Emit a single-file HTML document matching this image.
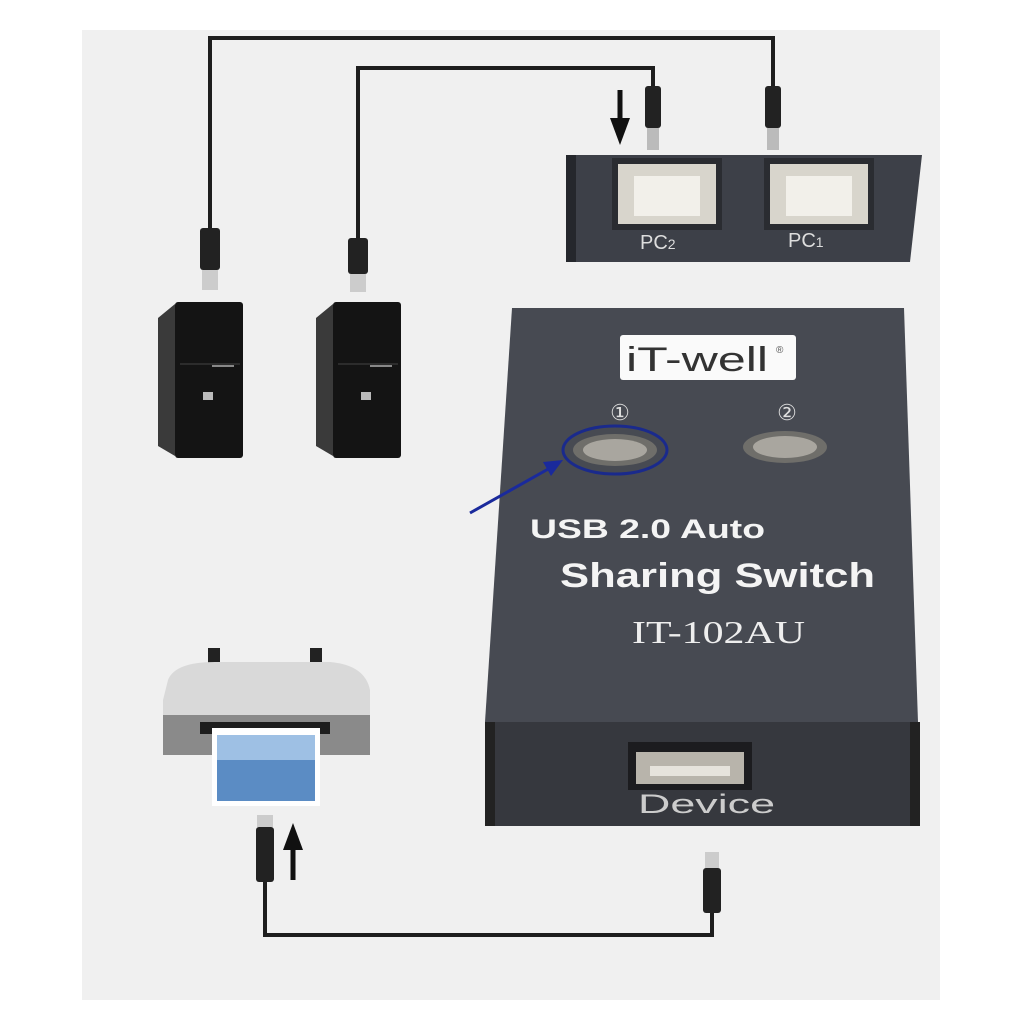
<!DOCTYPE html>
<html><head><meta charset="utf-8"><style>html,body{margin:0;padding:0;background:#fff}svg{display:block}</style></head><body>
<svg width="1024" height="1024" viewBox="0 0 1024 1024" xmlns="http://www.w3.org/2000/svg">
<rect x="82" y="30" width="858" height="970" fill="#f0f0f0"/>
<g fill="none" stroke="#1e1e1e" stroke-width="4">
<path d="M210 228 V38 H773 V90"/>
<path d="M358 240 V68 H653 V90"/>
<path d="M265 880 V935 H712 V905"/>
</g>
<g>
<rect x="645" y="86" width="16" height="42" rx="3" fill="#222"/><rect x="647" y="128" width="12" height="22" fill="#bbb"/>
<rect x="765" y="86" width="16" height="42" rx="3" fill="#222"/><rect x="767" y="128" width="12" height="22" fill="#bbb"/>
<rect x="200" y="228" width="20" height="42" rx="3" fill="#222"/><rect x="202" y="270" width="16" height="20" fill="#ccc"/>
<rect x="348" y="238" width="20" height="36" rx="3" fill="#222"/><rect x="350" y="274" width="16" height="18" fill="#ccc"/>
<rect x="257" y="815" width="16" height="12" fill="#ccc"/><rect x="256" y="827" width="18" height="55" rx="3" fill="#222"/>
<rect x="705" y="852" width="14" height="16" fill="#ccc"/><rect x="703" y="868" width="18" height="45" rx="3" fill="#222"/>
</g>
<path d="M620 90 V125" stroke="#111" stroke-width="5"/><path d="M610 118 L630 118 L620 145 Z" fill="#111"/>
<path d="M293 880 V845" stroke="#111" stroke-width="5"/><path d="M283 850 L303 850 L293 823 Z" fill="#111"/>
<polygon points="566,155 922,155 910,262 570,262" fill="#3d4048"/>
<rect x="566" y="155" width="10" height="107" fill="#25272c"/>
<rect x="612" y="158" width="110" height="72" fill="#2a2c31"/>
<rect x="618" y="164" width="98" height="60" fill="#d8d5cc"/><rect x="634" y="176" width="66" height="40" fill="#f2f0ea"/>
<rect x="764" y="158" width="110" height="72" fill="#2a2c31"/>
<rect x="770" y="164" width="98" height="60" fill="#d8d5cc"/><rect x="786" y="176" width="66" height="40" fill="#f2f0ea"/>
<text x="640" y="249" font-family="Liberation Sans, sans-serif" font-size="20" fill="#ddd">PC<tspan font-size="14">2</tspan></text>
<text x="788" y="247" font-family="Liberation Sans, sans-serif" font-size="20" fill="#ddd">PC<tspan font-size="14">1</tspan></text>
<polygon points="512,308 904,308 918,722 485,722" fill="#474a52"/>
<rect x="485" y="722" width="435" height="104" fill="#36383e"/>
<rect x="485" y="722" width="10" height="104" fill="#222"/><rect x="910" y="722" width="10" height="104" fill="#222"/>
<rect x="620" y="335" width="176" height="45" rx="3" fill="#fafafa"/>
<text x="626" y="371" font-family="Liberation Sans, sans-serif" font-size="34" fill="#333" textLength="142" lengthAdjust="spacingAndGlyphs">iT-well</text>
<text x="776" y="353" font-family="Liberation Sans, sans-serif" font-size="10" fill="#555">®</text>
<text x="620" y="420" font-family="Liberation Serif, serif" font-size="22" fill="#ddd" text-anchor="middle">①</text>
<text x="787" y="420" font-family="Liberation Serif, serif" font-size="22" fill="#ddd" text-anchor="middle">②</text>
<ellipse cx="615" cy="450" rx="42" ry="16" fill="#6f6e6a"/><ellipse cx="615" cy="450" rx="32" ry="11" fill="#a9a69f"/>
<ellipse cx="785" cy="447" rx="42" ry="16" fill="#6f6e6a"/><ellipse cx="785" cy="447" rx="32" ry="11" fill="#a9a69f"/>
<ellipse cx="615" cy="450" rx="52" ry="24" fill="none" stroke="#1a2a8c" stroke-width="3"/>
<path d="M470 513 L550 468" stroke="#1a2a9c" stroke-width="3"/><path d="M563 460 L543 462 L551 476 Z" fill="#1a2a9c"/>
<text x="530" y="538" font-family="Liberation Sans, sans-serif" font-weight="bold" font-size="27" fill="#f4f4f4" textLength="235" lengthAdjust="spacingAndGlyphs">USB 2.0 Auto</text>
<text x="560" y="587" font-family="Liberation Sans, sans-serif" font-weight="bold" font-size="34" fill="#f4f4f4" textLength="315" lengthAdjust="spacingAndGlyphs">Sharing Switch</text>
<text x="632" y="643" font-family="Liberation Serif, serif" font-size="32" fill="#eee" textLength="173" lengthAdjust="spacingAndGlyphs">IT-102AU</text>
<rect x="628" y="742" width="124" height="48" fill="#1c1c1f"/>
<rect x="636" y="752" width="108" height="32" fill="#b8b4ab"/><rect x="650" y="766" width="80" height="10" fill="#e6e3dc"/>
<text x="638" y="813" font-family="Liberation Sans, sans-serif" font-size="27" fill="#ccc" textLength="137" lengthAdjust="spacingAndGlyphs">Device</text>
<g>
<polygon points="158,318 175,304 175,456 158,446" fill="#3a3a3a"/>
<rect x="175" y="302" width="68" height="156" rx="3" fill="#141414"/>
<line x1="180" y1="364" x2="240" y2="364" stroke="#444"/><rect x="212" y="365" width="22" height="2" fill="#888"/>
<rect x="203" y="392" width="10" height="8" fill="#bbb"/>
<polygon points="316,318 333,304 333,456 316,446" fill="#3a3a3a"/>
<rect x="333" y="302" width="68" height="156" rx="3" fill="#141414"/>
<line x1="338" y1="364" x2="398" y2="364" stroke="#444"/><rect x="370" y="365" width="22" height="2" fill="#888"/>
<rect x="361" y="392" width="10" height="8" fill="#bbb"/>
</g>
<g>
<rect x="208" y="648" width="12" height="18" fill="#222"/><rect x="310" y="648" width="12" height="18" fill="#222"/>
<path d="M168 680 Q175 662 215 662 L330 662 Q365 665 370 690 L370 755 L163 755 L163 700 Z" fill="#d9d9d9"/>
<rect x="163" y="715" width="207" height="40" fill="#8a8a8a"/>
<rect x="200" y="722" width="130" height="12" fill="#1d1d1d"/>
<rect x="212" y="728" width="108" height="78" fill="#fff"/>
<rect x="217" y="735" width="98" height="66" fill="#5b8cc4"/>
<rect x="217" y="735" width="98" height="25" fill="#9ec0e4"/>
</g>
</svg>
</body></html>
